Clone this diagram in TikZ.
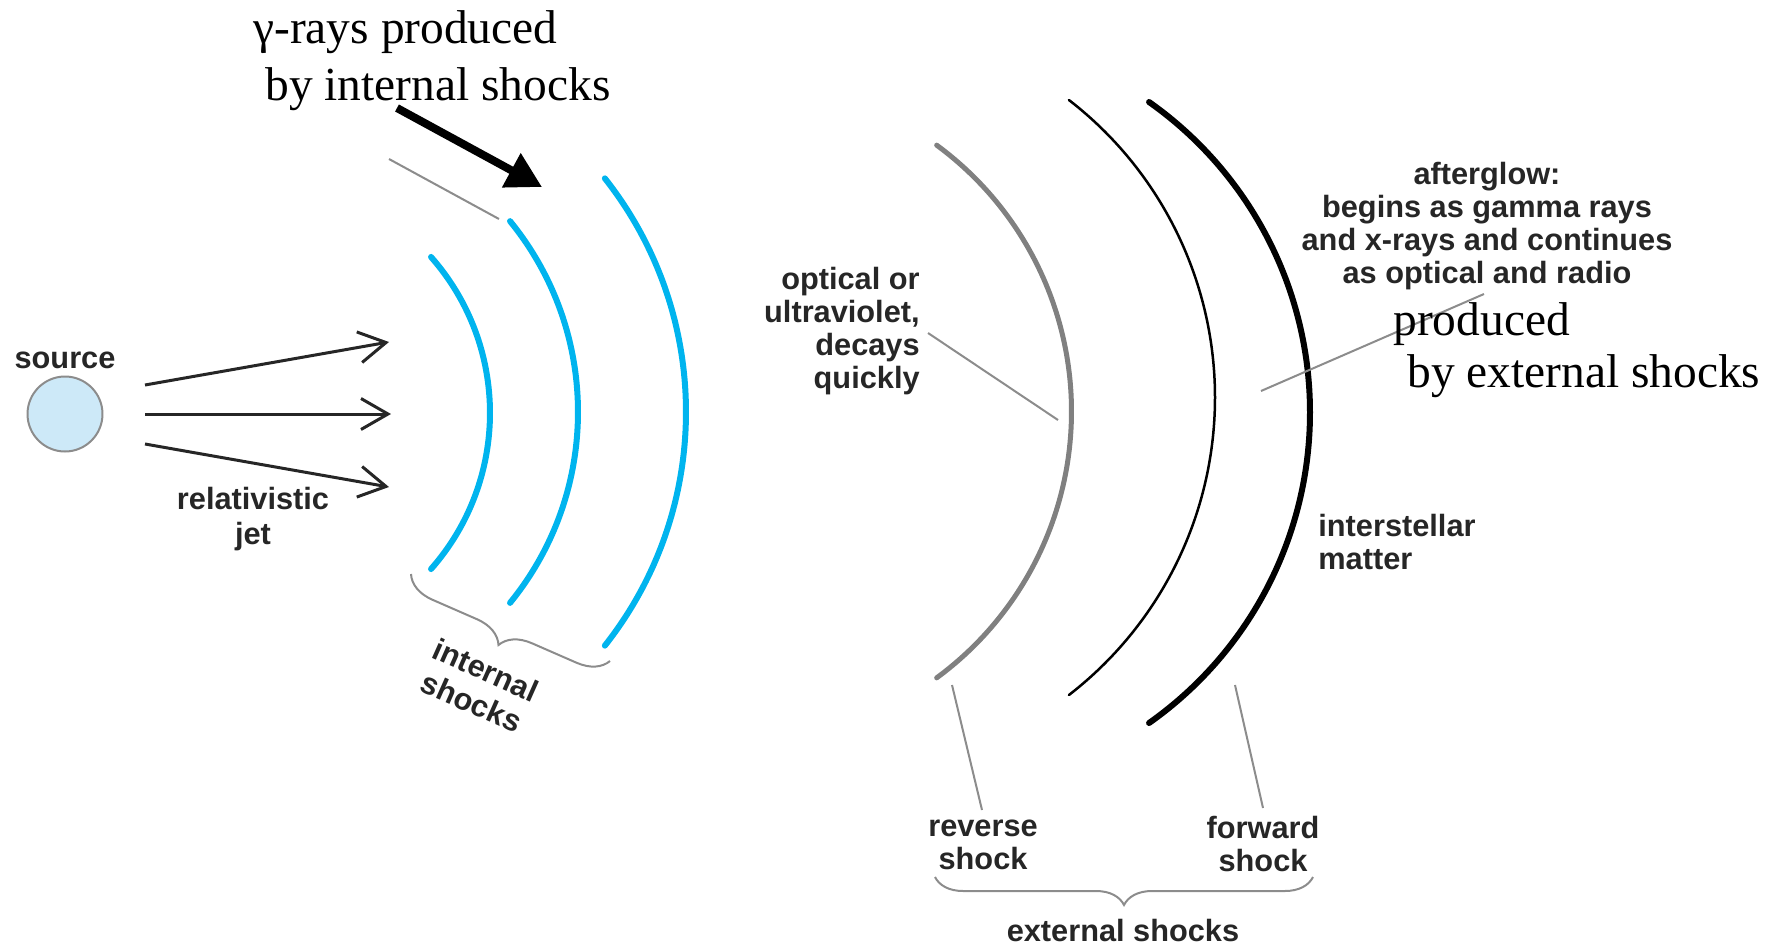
\documentclass[tikz,border=0pt]{standalone}
\usepackage{fontspec}
\setmainfont{Liberation Serif}
\setsansfont{Liberation Sans}
\usetikzlibrary{arrows.meta,decorations.pathreplacing,calc}

\definecolor{jetblue}{HTML}{00B4EE}
\definecolor{labelgray}{HTML}{262626}
\definecolor{leadgray}{HTML}{8C8C8C}
\definecolor{revgray}{HTML}{808080}
\definecolor{srcfill}{HTML}{CDE9F8}

\begin{document}
\begin{tikzpicture}[x=0.02cm,y=-0.02cm,
  lbl/.style={font=\sffamily\bfseries\fontsize{17.5}{18.7}\selectfont,
    text=labelgray, inner sep=0pt, align=center},
  serifline/.style={font=\fontsize{27}{29}\selectfont, text=black,
    inner sep=0pt, anchor=base west},
  lead/.style={draw=leadgray, line width=0.04cm},
  bluearc/.style={draw=jetblue, line width=0.12cm, line cap=round},
  jetarrow/.style={draw=labelgray, line width=0.06cm,
    -{Straight Barb[length=0.54cm,width=0.62cm,line width=0.06cm]}},
  bracegray/.style={draw=leadgray, line width=0.04cm, decorate},
]
\useasboundingbox (0,0) rectangle (1777,943);
\clip (0,0) rectangle (1777,943);

% ---- source and relativistic jet ----
\node[circle, draw=leadgray, fill=srcfill, line width=0.04cm,
      minimum size=1.5cm, inner sep=0pt] (src) at (65,414) {};
\node[lbl, anchor=base] (srclbl) at (65,368) {source};

\coordinate (j1s) at (145,385); \coordinate (j1e) at (389,342);
\coordinate (j2s) at (145,414); \coordinate (j2e) at (391,414);
\coordinate (j3s) at (145,444); \coordinate (j3e) at (389,487);
\draw[jetarrow] (j1s) -- (j1e);
\draw[jetarrow] (j2s) -- (j2e);
\draw[jetarrow] (j3s) -- (j3e);
\node[lbl, font=\sffamily\bfseries\fontsize{17.5}{19.5}\selectfont]
  (jet) at (253,519) {relativistic\\jet};

% ---- internal shocks (blue shells) ----
\draw[bluearc] (254,413) ++(-41.4:236) arc[start angle=-41.4, end angle=41.4, radius=236];
\draw[bluearc] (276,412) ++(-39.2:302) arc[start angle=-39.2, end angle=39.2, radius=302];
\draw[bluearc] (309,412) ++(-38.3:377) arc[start angle=-38.3, end angle=38.3, radius=377];

\coordinate (ilead1) at (389,159);
\coordinate (ilead2) at (499,219);
\draw[lead] (ilead1) -- (ilead2);

\coordinate (ibr1) at (610,661);
\coordinate (ibr2) at (411,574);
\draw[bracegray, decoration={brace, amplitude=0.6cm}] (ibr1) -- (ibr2);
\node[lbl, rotate=-24, font=\sffamily\bfseries\fontsize{17.5}{20}\selectfont]
  (intlbl) at (479,686) {internal\\shocks};

% gamma-ray annotation
\node[serifline] (g1) at (253,43) {γ-rays produced};
\node[serifline] (g2) at (265,100) {by internal shocks};
\coordinate (gtail) at (397,108);
\coordinate (gtip) at (542,187);
\draw[line width=0.16cm, -{Triangle[length=0.7cm,width=0.74cm]}] (gtail) -- (gtip);

% ---- external shocks ----
\draw[draw=revgray, line width=0.1cm, line cap=round]
  (741,411.5) ++(-53.7:330.5) arc[start angle=-53.7, end angle=53.7, radius=330.5];
\draw[draw=black, line width=0.05cm, line cap=round]
  (839,397.5) ++(-52.3:376) arc[start angle=-52.3, end angle=52.3, radius=376];
\draw[draw=black, line width=0.12cm, line cap=round]
  (930,412.5) ++(-54.8:380) arc[start angle=-54.8, end angle=54.8, radius=380];

\node[lbl, align=right, anchor=east, font=\sffamily\bfseries\fontsize{17.5}{18.9}\selectfont]
  (optlbl) at (920,331) {optical or\\ultraviolet,\\decays\\quickly};
\coordinate (olead1) at (928,333);
\coordinate (olead2) at (1058,420);
\draw[lead] (olead1) -- (olead2);

\node[lbl] (aglbl) at (1487,226)
  {afterglow:\\begins as gamma rays\\and x-rays and continues\\as optical and radio};
\coordinate (alead1) at (1261,391);
\coordinate (alead2) at (1484,294);
\draw[lead] (alead1) -- (alead2);

\node[serifline] (p1) at (1393,335) {produced};
\node[serifline] (p2) at (1407,387) {by external shocks};

\node[lbl, align=left, anchor=west] (ismlbl) at (1318,542) {interstellar\\matter};

\node[lbl] (revlbl) at (983,845) {reverse\\shock};
\node[lbl] (fwdlbl) at (1263,844) {forward\\shock};
\coordinate (rlead1) at (952,685);
\coordinate (rlead2) at (982,810);
\coordinate (flead1) at (1235,685);
\coordinate (flead2) at (1263,808);
\draw[lead] (rlead1) -- (rlead2);
\draw[lead] (flead1) -- (flead2);

\coordinate (ebr1) at (1313,877);
\coordinate (ebr2) at (935,877);
\draw[bracegray, decoration={brace, amplitude=0.56cm}] (ebr1) -- (ebr2);
\node[lbl, anchor=base] (extlbl) at (1123,941) {external shocks};
\end{tikzpicture}
\end{document}
